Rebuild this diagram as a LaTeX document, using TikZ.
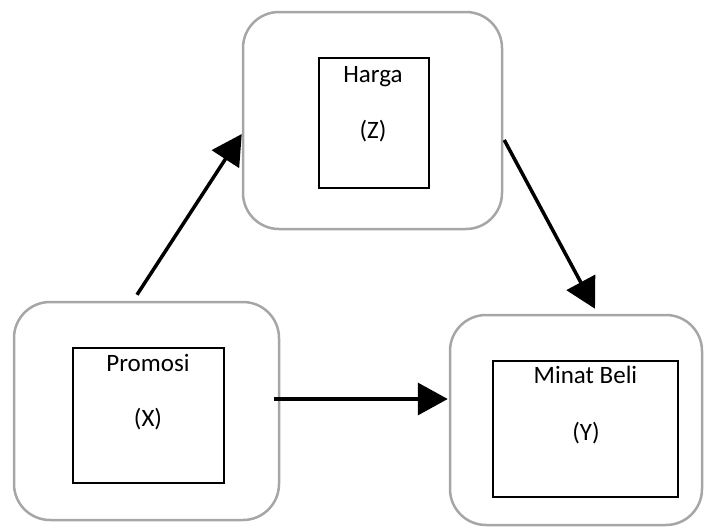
\documentclass[tikz,border=0pt]{standalone}
\usepackage{fontspec}
\setmainfont{Carlito}
\usepackage{tikz}
\usetikzlibrary{positioning,arrows.meta}

\begin{document}
\begin{tikzpicture}[x=1pt,y=-1pt, every node/.style={font=\fontsize{25}{30}\selectfont}]
		\tikzstyle{outer}=[draw=black!35,line width=2.5pt,rounded corners=36pt,inner sep=0pt]
		\tikzstyle{inner}=[draw=black,line width=1.4pt,inner sep=0pt]
		\tikzstyle{arr}=[line width=3.5pt,-{Triangle[length=30pt,width=32pt]}]
		\useasboundingbox (0,0) rectangle (705,528);
		\node[outer, minimum width=259pt, minimum height=217pt] (hz) at (372.5,120.5) {};
		\node[outer, minimum width=265pt, minimum height=218pt] (px) at (146.5,411) {};
		\node[outer, minimum width=252pt, minimum height=210pt] (my) at (576,420) {};
		\node[inner, minimum width=110pt, minimum height=130pt] (hzbox) at (374,123) {};
		\node[inner, minimum width=151pt, minimum height=135pt] (pxbox) at (148.5,415.5) {};
		\node[inner, minimum width=185pt, minimum height=136pt] (mybox) at (585.5,429) {};
		\node[anchor=base] (hzname) at (373,82) {Harga};
		\node[anchor=base] (hzsym) at (373,138) {(Z)};
		\node[anchor=base] (pxname) at (148,371) {Promosi};
		\node[anchor=base] (pxsym) at (148,426) {(X)};
		\node[anchor=base] (myname) at (585.5,383) {Minat Beli};
		\node[anchor=base] (mysym) at (586,440) {(Y)};
		\draw[arr] ([shift={(-9.5,-6)}]px.north) -- ([shift={(0,13.5)}]hz.west);
		\draw[arr] ([shift={(1,19.5)}]hz.east) -- ([shift={(19,-5)}]my.north);
		\draw[arr] ([shift={(-6,-12)}]px.east) -- ([shift={(-1,-21)}]my.west);
	\end{tikzpicture}
\end{document}
